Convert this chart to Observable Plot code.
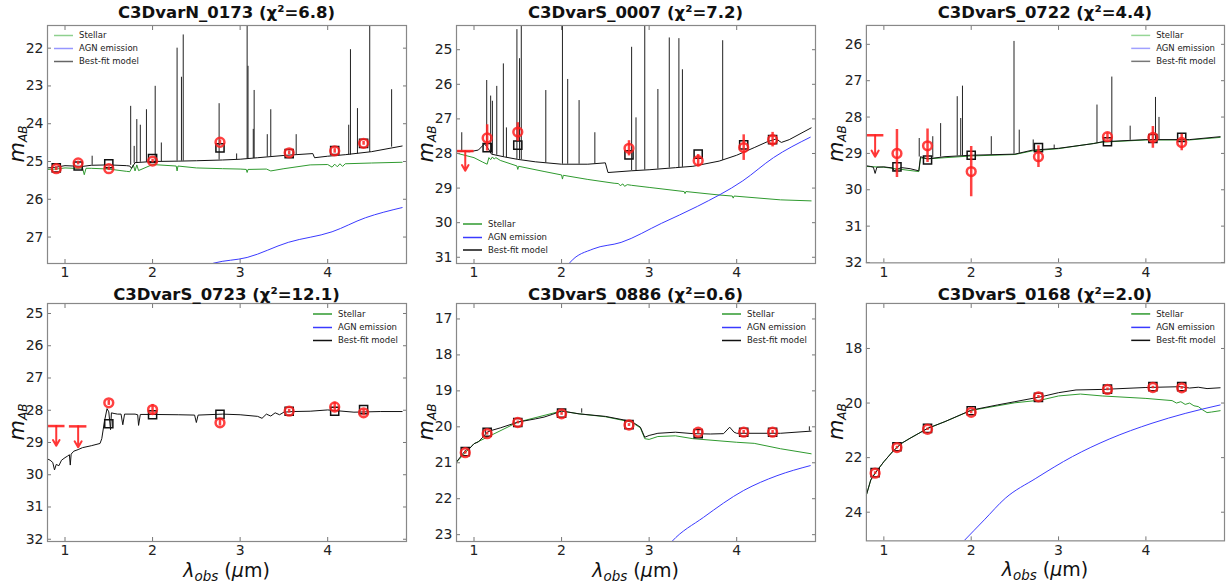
<!DOCTYPE html>
<html><head><meta charset="utf-8">
<script src="https://cdn.jsdelivr.net/npm/d3@7"></script>
<script src="https://cdn.jsdelivr.net/npm/@observablehq/plot@0.6"></script>
<style>
html,body{margin:0;padding:0;background:#fff;}
#wrap{position:relative;width:1228px;height:586px;overflow:hidden;font-family:"DejaVu Sans",sans-serif;}
.cell{position:absolute;}
</style></head><body><div id="wrap"></div>
<script>
// ---------------- DATA ----------------
const titles = ["C3DvarN_0173 (χ²=6.8)","C3DvarS_0007 (χ²=7.2)","C3DvarS_0722 (χ²=4.4)",
                "C3DvarS_0723 (χ²=12.1)","C3DvarS_0886 (χ²=0.6)","C3DvarS_0168 (χ²=2.0)"];
const legendLabels = ["Stellar","AGN emission","Best-fit model"];
const xDomain = [0.8, 4.9];
const xTicks = [1,2,3,4];
const filterWl = [0.90,1.15,1.50,2.00,2.77,3.56,4.08,4.41];

// Panel 1  C3DvarN_0173
const yDomain1 = [21.4, 27.7];
const yTicks1 = [22,23,24,25,26,27];
const obs1Wl = filterWl;
const obs1Mag = [25.19,25.04,25.19,24.99,24.49,24.77,24.72,24.52];
const obs1Err = [0.05,0.05,0.05,0.05,0.06,0.05,0.06,0.05];
const mod1Mag = [25.17,25.12,25.06,24.92,24.64,24.79,24.71,24.52];
const bf1Wl  = [0.80,0.90,1.00,1.10,1.20,1.30,1.50,1.70,1.74,1.76,1.80,2.00,2.30,2.50,2.80,3.00,3.20,3.50,3.83,3.85,4.00,4.20,4.50,4.85];
const bf1Mag = [25.17,25.15,25.11,25.12,25.13,25.10,25.09,25.11,25.12,25.18,25.03,25.00,24.99,24.98,24.96,24.94,24.90,24.84,24.79,24.90,24.86,24.82,24.74,24.59];
const st1Wl  = [0.80,0.90,1.00,1.10,1.20,1.22,1.24,1.30,1.50,1.70,1.74,1.78,1.80,1.82,1.84,2.00,2.27,2.28,2.29,2.50,2.80,3.00,3.07,3.08,3.09,3.30,3.35,3.50,3.80,4.00,4.05,4.08,4.11,4.14,4.17,4.20,4.50,4.85];
const st1Mag = [25.21,25.20,25.17,25.18,25.17,25.35,25.18,25.18,25.20,25.26,25.27,25.09,25.25,25.09,25.24,25.08,25.12,25.25,25.12,25.17,25.19,25.20,25.21,25.29,25.21,25.20,25.25,25.19,25.09,25.08,25.15,25.07,25.14,25.06,25.13,25.06,25.04,25.02];
const agn1Wl  = [2.60,2.70,3.08,3.55,4.05,4.43,4.85];
const agn1Mag = [27.76,27.69,27.54,27.14,26.86,26.49,26.22];
const em1Wl   = [1.31,1.75,1.79,1.82,1.86,1.93,2.03,2.10,2.28,2.33,2.35,2.76,2.96,3.08,3.09,3.15,3.16,3.31,3.35,3.64,4.24,4.26,4.34,4.48,4.73];
const em1Peak = [24.86,23.54,24.60,23.89,24.04,23.63,23.01,24.51,22.00,22.77,21.65,23.47,24.80,21.00,22.48,24.15,23.12,24.29,23.63,24.29,24.04,22.04,23.60,21.00,23.10];
const em1Base = [25.10,25.10,25.05,25.03,25.02,25.02,25.00,25.00,24.99,24.99,24.99,24.96,24.95,24.93,24.93,24.92,24.92,24.88,24.87,24.82,24.83,24.83,24.80,24.76,24.62];

// Panel 2  C3DvarS_0007
const yDomain2 = [24.3, 31.18];
const yTicks2 = [25,26,27,28,29,30,31];
const obs2Wl  = [1.15,1.50,2.77,3.56,4.08,4.41];
const obs2Mag = [27.55,27.38,27.85,28.21,27.83,27.60];
const obs2Err = [0.38,0.27,0.22,0.18,0.37,0.21];
const mod2Mag = [27.83,27.76,28.04,28.02,27.75,27.60];
const ul2Wl = [0.90], ul2Mag = [27.93], ul2Tip = [28.5];
const bf2Wl  = [0.80,0.95,1.05,1.12,1.16,1.20,1.35,1.50,1.70,2.00,2.30,2.50,2.53,2.80,3.00,3.30,3.50,3.80,4.00,4.20,4.35,4.45,4.51,4.60,4.85];
const bf2Mag = [27.93,27.95,27.90,27.72,27.85,28.02,28.10,28.17,28.24,28.31,28.31,28.27,28.55,28.50,28.47,28.41,28.37,28.22,28.05,27.83,27.66,27.58,27.68,27.60,27.26];
const st2Wl  = [0.80,1.00,1.10,1.15,1.17,1.19,1.21,1.23,1.25,1.30,1.49,1.50,1.51,1.80,2.00,2.01,2.02,2.30,2.60,2.65,2.67,2.70,2.72,2.75,2.80,3.00,3.40,3.41,3.42,3.80,3.95,3.96,3.97,4.50,4.85];
const st2Mag = [27.99,28.12,28.25,28.31,28.12,28.18,28.10,28.16,28.12,28.20,28.36,28.46,28.37,28.52,28.62,28.74,28.63,28.75,28.86,28.87,28.93,28.88,28.95,28.90,28.92,28.98,29.10,29.16,29.10,29.20,29.23,29.29,29.23,29.34,29.37];
const agn2Wl  = [2.05,2.10,2.36,2.68,3.14,3.55,4.07,4.42,4.84];
const agn2Mag = [31.30,31.14,30.76,30.57,30.02,29.53,28.79,28.12,27.53];
const em2Wl   = [0.86,1.145,1.19,1.21,1.26,1.335,1.37,1.49,1.52,1.54,1.82,2.01,2.07,2.20,2.38,2.80,2.85,2.95,3.10,3.23,3.34,3.38,3.84];
const em2Peak = [27.40,25.89,26.34,26.49,26.06,25.41,27.26,24.42,25.26,24.00,26.18,24.00,25.86,26.47,27.40,24.93,26.97,24.00,26.15,24.66,24.68,25.58,24.74];
const em2Base = [27.93,27.80,28.00,28.02,28.05,28.10,28.12,28.17,28.17,28.18,28.27,28.31,28.31,28.31,28.30,28.50,28.50,28.48,28.45,28.42,28.41,28.40,28.20];

// Panel 3  C3DvarS_0722
const yDomain3 = [25.48, 32.01];
const yTicks3 = [26,27,28,29,30,31,32];
const obs3Wl  = [1.15,1.50,2.00,2.77,3.56,4.08,4.41];
const obs3Mag = [29.00,28.79,29.50,29.09,28.54,28.56,28.70];
const obs3Err = [0.66,0.46,0.69,0.30,0.10,0.30,0.23];
const mod3Mag = [29.37,29.18,29.05,28.84,28.68,28.59,28.56];
const ul3Wl = [0.90], ul3Mag = [28.50], ul3Tip = [29.09];
const bf3Wl  = [0.80,0.85,0.88,0.90,0.92,1.00,1.10,1.12,1.20,1.30,1.40,1.42,1.50,1.70,2.00,2.50,2.70,3.00,3.40,3.50,4.00,4.50,4.85];
const bf3Mag = [29.34,29.36,29.38,29.55,29.38,29.37,29.40,29.47,29.39,29.42,29.48,29.09,29.15,29.09,29.05,29.02,28.91,28.86,28.73,28.68,28.62,28.62,28.54];
const st3Wl  = [0.80,1.00,1.40,1.42,1.50,2.00,2.50,2.70,3.00,3.50,4.00,4.50,4.85];
const st3Mag = [29.36,29.38,29.50,29.12,29.15,29.07,29.03,28.93,28.87,28.69,28.63,28.63,28.56];
const em3Wl   = [1.405,1.56,1.65,1.84,1.88,1.90,2.23,2.49,2.55,2.71,2.95,3.44,3.61,3.82,4.11,4.15];
const em3Peak = [28.59,28.54,28.18,27.44,28.04,27.15,28.54,25.92,28.36,28.63,28.77,27.67,26.90,28.25,27.46,28.01];
const em3Base = [29.10,29.12,29.10,29.07,29.07,29.07,29.04,29.02,29.00,28.90,28.87,28.72,28.68,28.64,28.62,28.62];

// Panel 4  C3DvarS_0723
const yDomain4 = [24.69, 32.07];
const yTicks4 = [25,26,27,28,29,30,31,32];
const obs4Wl  = [1.50,2.00,2.77,3.56,4.08,4.41];
const obs4Mag = [27.77,27.98,28.39,28.03,27.90,28.08];
const obs4Err = [0.08,0.16,0.10,0.06,0.15,0.10];
const mod4Mag = [28.42,28.14,28.13,28.03,28.03,27.98];
const ul4Wl = [0.90,1.15], ul4Mag = [28.49,28.50], ul4Tip = [29.10,29.15];
const bf4Wl  = [0.80,0.83,0.86,0.88,0.90,0.93,0.96,1.00,1.03,1.05,1.06,1.07,1.10,1.15,1.20,1.30,1.40,1.42,1.45,1.48,1.50,1.52,1.53,1.56,1.60,1.64,1.66,1.68,1.80,1.83,1.84,1.86,2.00,2.30,2.48,2.50,2.52,2.80,3.00,3.20,3.25,3.30,3.35,3.40,3.45,3.50,3.60,3.80,4.00,4.30,4.60,4.85];
const bf4Mag = [29.51,29.55,29.62,29.85,29.68,29.72,29.55,29.47,29.42,29.38,29.70,29.36,29.27,29.22,29.16,29.10,29.03,28.88,28.35,27.95,28.05,28.60,28.08,28.10,28.12,28.12,28.45,28.12,28.12,28.14,28.47,28.13,28.13,28.14,28.15,28.38,28.15,28.12,28.14,28.19,28.25,28.12,28.18,28.08,28.14,28.06,28.04,28.03,27.99,28.06,28.04,28.04];

// Panel 5  C3DvarS_0886
const yDomain5 = [16.57, 23.19];
const yTicks5 = [17,18,19,20,21,22,23];
const obs5Wl  = filterWl;
const obs5Mag = [20.72,20.19,19.88,19.64,19.95,20.15,20.15,20.15];
const obs5Err = [0.04,0.04,0.04,0.04,0.04,0.05,0.05,0.05];
const mod5Mag = [20.69,20.15,19.88,19.62,19.94,20.19,20.15,20.15];
const bf5Wl  = [0.80,0.85,0.90,0.95,1.00,1.05,1.10,1.15,1.20,1.30,1.50,1.70,1.80,1.90,2.00,2.20,2.50,2.80,2.90,2.95,3.00,3.10,3.30,3.50,3.70,3.85,3.92,3.97,4.00,4.50,4.85];
const bf5Mag = [20.98,20.82,20.66,20.60,20.47,20.42,20.29,20.15,20.10,20.03,19.87,19.78,19.73,19.65,19.56,19.64,19.71,19.85,20.01,20.29,20.24,20.18,20.15,20.19,20.20,20.19,20.01,20.15,20.18,20.18,20.12];
const st5Wl  = [0.80,1.00,1.50,2.00,2.20,2.50,2.80,2.90,2.95,3.00,3.10,3.30,3.50,4.00,4.20,4.50,4.85];
const st5Mag = [20.98,20.47,19.87,19.56,19.64,19.72,19.87,20.03,20.33,20.35,20.27,20.25,20.33,20.43,20.46,20.61,20.75];
const agn5Wl  = [3.22,3.26,3.62,4.08,4.46,4.84];
const agn5Mag = [23.30,23.19,22.52,21.77,21.36,21.08];
const em5Wl   = [1.13,2.23,4.83];
const em5Peak = [20.05,19.50,20.00];
const em5Base = [20.20,19.62,20.12];

// Panel 6  C3DvarS_0168
const yDomain6 = [16.35, 25.05];
const yTicks6 = [18,20,22,24];
const obs6Wl  = filterWl;
const obs6Mag = [22.57,21.63,20.96,20.34,19.77,19.50,19.43,19.44];
const obs6Err = [0.05,0.05,0.05,0.05,0.05,0.05,0.05,0.05];
const mod6Mag = [22.55,21.60,20.93,20.28,19.79,19.49,19.40,19.40];
const bf6Wl  = [0.80,0.85,0.90,1.00,1.10,1.20,1.30,1.50,1.70,2.00,2.30,2.50,2.80,3.00,3.20,3.50,4.00,4.40,4.50,4.60,4.70,4.85];
const bf6Mag = [23.37,22.82,22.57,22.15,21.78,21.48,21.29,20.93,20.68,20.26,20.07,19.95,19.77,19.62,19.52,19.50,19.43,19.40,19.45,19.42,19.47,19.44];
const st6Wl  = [0.80,0.85,0.90,1.00,1.10,1.20,1.30,1.50,1.70,2.00,2.50,2.80,3.00,3.25,3.50,4.00,4.30,4.35,4.40,4.45,4.50,4.55,4.60,4.65,4.70,4.75,4.85];
const st6Mag = [23.37,22.82,22.57,22.15,21.78,21.48,21.29,20.93,20.68,20.27,19.99,19.89,19.74,19.67,19.74,19.83,19.91,20.00,19.95,20.05,20.00,20.10,20.13,20.25,20.35,20.33,20.28];
const agn6Wl  = [1.92,2.15,2.39,2.74,3.16,3.58,4.07,4.45,4.85];
const agn6Mag = [25.04,24.28,23.49,22.76,21.96,21.32,20.74,20.38,20.07];

// ---------------- BUILD ----------------
const GREEN = "#2f9a2f", BLUE = "#3a3aff", RED = "#ff2020", INK = "#111";
const capHalf = 0.1;
const pts = (wl, mag, extra = {}) => wl.map((w, i) => {
  const o = {wl: w, mag: mag[i]};
  for (const k in extra) o[k] = extra[k][i];
  return o;
});

const cfgs = [
  {title: titles[0], left: 0, top: 0, row: 0, yd: yDomain1, yt: yTicks1,
   obs: pts(obs1Wl, obs1Mag, {err: obs1Err}), mod: pts(obs1Wl, mod1Mag),
   bf: pts(bf1Wl, bf1Mag), st: pts(st1Wl, st1Mag), agn: pts(agn1Wl, agn1Mag),
   em: pts(em1Wl, em1Peak, {base: em1Base}), ul: null,
   leg: {side: "left", ys: [35.5, 48.5, 61.5], colors: ["#8fd08f", "#9696ff", "#666"]}},
  {title: titles[1], left: 409, top: 0, row: 0, yd: yDomain2, yt: yTicks2,
   obs: pts(obs2Wl, obs2Mag, {err: obs2Err}), mod: pts(obs2Wl, mod2Mag),
   bf: pts(bf2Wl, bf2Mag), st: pts(st2Wl, st2Mag), agn: pts(agn2Wl, agn2Mag),
   em: pts(em2Wl, em2Peak, {base: em2Base}), ul: pts(ul2Wl, ul2Mag, {tip: ul2Tip}),
   leg: {side: "left", ys: [224, 237.5, 250], colors: [GREEN, BLUE, INK]}},
  {title: titles[2], left: 819, top: 0, row: 0, yd: yDomain3, yt: yTicks3,
   obs: pts(obs3Wl, obs3Mag, {err: obs3Err}), mod: pts(obs3Wl, mod3Mag),
   bf: pts(bf3Wl, bf3Mag), st: pts(st3Wl, st3Mag), agn: null,
   em: pts(em3Wl, em3Peak, {base: em3Base}), ul: pts(ul3Wl, ul3Mag, {tip: ul3Tip}),
   leg: {side: "right", ys: [35.5, 48.5, 61.5], colors: ["#96d696", "#a0a0ff", "#777"]}},
  {title: titles[3], left: 0, top: 283, row: 1, yd: yDomain4, yt: yTicks4,
   obs: pts(obs4Wl, obs4Mag, {err: obs4Err}), mod: pts(obs4Wl, mod4Mag),
   bf: pts(bf4Wl, bf4Mag), st: null, agn: null, em: null, ul: pts(ul4Wl, ul4Mag, {tip: ul4Tip}),
   leg: {side: "right", ys: [31, 44.5, 57.5], colors: [GREEN, BLUE, INK]}},
  {title: titles[4], left: 409, top: 283, row: 1, yd: yDomain5, yt: yTicks5,
   obs: pts(obs5Wl, obs5Mag, {err: obs5Err}), mod: pts(obs5Wl, mod5Mag),
   bf: pts(bf5Wl, bf5Mag), st: pts(st5Wl, st5Mag), agn: pts(agn5Wl, agn5Mag),
   em: pts(em5Wl, em5Peak, {base: em5Base}), ul: null,
   leg: {side: "right", ys: [31, 44.5, 57.5], colors: [GREEN, BLUE, INK]}},
  {title: titles[5], left: 819, top: 283, row: 1, yd: yDomain6, yt: yTicks6,
   obs: pts(obs6Wl, obs6Mag, {err: obs6Err}), mod: pts(obs6Wl, mod6Mag),
   bf: pts(bf6Wl, bf6Mag), st: pts(st6Wl, st6Mag), agn: pts(agn6Wl, agn6Mag),
   em: null, ul: null,
   leg: {side: "right", ys: [31, 44.5, 57.5], colors: [GREEN, BLUE, INK]}}
];

const wrap = document.getElementById("wrap");
const W = 410, ML = 47, MR = 4;

cfgs.forEach(c => {
  const H = c.row === 0 ? 283 : 303;
  const MT = c.row === 0 ? 25 : 20;
  const MB = c.row === 0 ? 20 : 45;
  const marks = [];
  if (c.st) marks.push(Plot.line(c.st, {x: "wl", y: "mag", stroke: GREEN, strokeWidth: 1, clip: true}));
  if (c.agn) marks.push(Plot.line(c.agn, {x: "wl", y: "mag", stroke: BLUE, strokeWidth: 1, curve: "monotone-x", clip: true}));
  if (c.em) marks.push(Plot.ruleX(c.em, {x: "wl", y1: "mag", y2: "base", stroke: "#222", strokeWidth: 1, clip: true}));
  marks.push(Plot.line(c.bf, {x: "wl", y: "mag", stroke: INK, strokeWidth: 1, clip: true}));
  marks.push(Plot.dot(c.mod, {x: "wl", y: "mag", symbol: "square", r: 4.6, stroke: INK, strokeWidth: 1.5, fill: "none"}));
  marks.push(Plot.ruleX(c.obs, {x: "wl", y1: d => d.mag - d.err, y2: d => d.mag + d.err, stroke: RED, strokeOpacity: 0.85, strokeWidth: 2.5, clip: true}));
  marks.push(Plot.dot(c.obs, {x: "wl", y: "mag", r: 4.4, stroke: RED, strokeOpacity: 0.85, strokeWidth: 2.5, fill: "none"}));
  if (c.ul) {
    marks.push(Plot.ruleY(c.ul, {y: "mag", x1: d => d.wl - capHalf, x2: d => d.wl + capHalf, stroke: RED, strokeOpacity: 0.9, strokeWidth: 2.5, clip: true}));
    marks.push(Plot.arrow(c.ul, {x1: "wl", x2: "wl", y1: "mag", y2: "tip", stroke: RED, strokeOpacity: 0.9, strokeWidth: 2, headLength: 6}));
  }
  // axes: labels
  marks.push(Plot.axisX({anchor: "bottom", ticks: xTicks, tickSize: 0, tickPadding: 4, fontSize: 14, color: "#222", label: null, tickFormat: d => String(d)}));
  marks.push(Plot.axisY({anchor: "left", ticks: c.yt, tickSize: 0, tickPadding: 4, fontSize: 14, color: "#222", label: null, tickFormat: d => String(d)}));
  // inward ticks on all sides
  const tk = {tickSize: -4, tickFormat: () => "", color: "#777", label: null};
  marks.push(Plot.axisX({anchor: "bottom", ticks: xTicks, ...tk}));
  marks.push(Plot.axisX({anchor: "top", ticks: xTicks, ...tk}));
  marks.push(Plot.axisY({anchor: "left", ticks: c.yt, ...tk}));
  marks.push(Plot.axisY({anchor: "right", ticks: c.yt, ...tk}));
  marks.push(Plot.frame({stroke: "#888", strokeWidth: 1.2}));

  const svg = Plot.plot({
    width: W, height: H, marginLeft: ML, marginRight: MR, marginTop: MT, marginBottom: MB,
    x: {domain: xDomain},
    y: {domain: c.yd, reverse: true},
    style: {fontFamily: "'DejaVu Sans', sans-serif", background: "none", overflow: "visible", color: "#222"},
    marks
  });
  const cell = document.createElement("div");
  cell.className = "cell";
  cell.style.left = c.left + "px";
  cell.style.top = c.top + "px";
  cell.appendChild(svg);
  wrap.appendChild(cell);

  const s = d3.select(svg);
  const fL = ML, fR = W - MR, fT = MT, fB = H - MB;
  // title
  s.append("text").attr("x", (fL + fR) / 2).attr("y", c.row === 0 ? 18 : 17)
    .attr("text-anchor", "middle").attr("font-weight", "bold").attr("font-size", 16.5)
    .attr("fill", "#111").text(c.title);
  // y label
  const yl = s.append("text").attr("transform", `translate(${fL - 23},${(fT + fB) / 2}) rotate(-90)`)
    .attr("text-anchor", "middle").attr("font-size", 21).attr("fill", "#111");
  yl.append("tspan").attr("font-style", "italic").text("m");
  yl.append("tspan").attr("font-style", "italic").attr("font-size", 12).attr("dy", 3).text("AB");
  // x label (bottom row)
  if (c.row === 1) {
    const xl = s.append("text").attr("x", (fL + fR) / 2).attr("y", 294)
      .attr("text-anchor", "middle").attr("font-size", 19).attr("fill", "#111");
    xl.append("tspan").attr("font-style", "italic").text("λ");
    xl.append("tspan").attr("font-style", "italic").attr("font-size", 13.5).attr("dy", 4).text("obs");
    xl.append("tspan").attr("dy", -4).text(" (");
    xl.append("tspan").attr("font-style", "italic").text("μ");
    xl.append("tspan").text("m)");
  }
  // legend
  const tx = c.leg.side === "left" ? fL + 32 : fR - 68;
  const g = s.append("g").attr("font-size", 8.5).attr("fill", "#222").attr("text-anchor", "start");
  legendLabels.forEach((lab, i) => {
    const y = c.leg.ys[i];
    g.append("line").attr("x1", tx - 25).attr("x2", tx - 6).attr("y1", y).attr("y2", y)
      .attr("stroke", c.leg.colors[i]).attr("stroke-width", 1.5);
    g.append("text").attr("x", tx).attr("y", y).attr("dy", "0.35em").attr("text-anchor", "start").text(lab);
  });
});
</script></body></html>
